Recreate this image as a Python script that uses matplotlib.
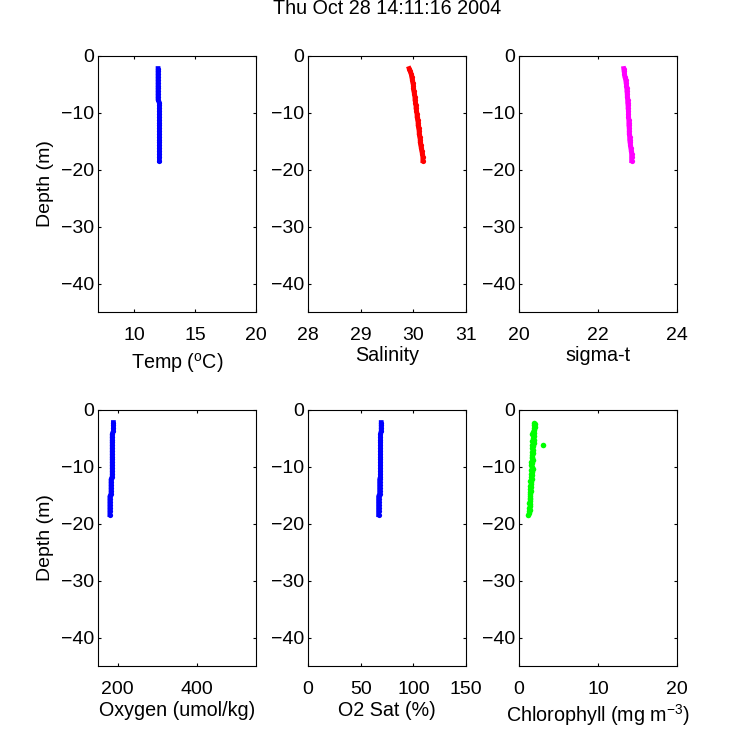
#!/usr/bin/env python3
"""CTD cast profiles, six panels of depth against water properties."""

import matplotlib

matplotlib.use("Agg")
import matplotlib.pyplot as plt

plt.rcParams["font.family"] = ["Liberation Sans", "DejaVu Sans"]
plt.rcParams["mathtext.default"] = "regular"

title = "Thu Oct 28 14:11:16 2004"

depth = [
    -2.2, -2.7, -3.2, -3.7, -4.2, -4.7, -5.2, -5.7, -6.2, -6.7, -7.2,
    -7.7, -8.2, -8.7, -9.2, -9.7, -10.2, -10.7, -11.2, -11.7, -12.2, -12.7,
    -13.2, -13.7, -14.2, -14.7, -15.2, -15.7, -16.2, -16.7, -17.2, -17.7, -18.4,
]
temp = [
    11.94, 11.94, 11.94, 11.94, 11.94, 11.94, 11.94, 11.94, 11.94, 11.94, 11.94,
    11.94, 12.05, 12.05, 12.05, 12.05, 12.05, 12.05, 12.05, 12.05, 12.05, 12.05,
    12.05, 12.05, 12.05, 12.05, 12.05, 12.05, 12.05, 12.05, 12.05, 12.05, 12.05,
]
salinity = [
    29.92, 29.94, 29.96, 29.97, 29.98, 29.99, 30.00, 30.00, 30.01, 30.02, 30.03,
    30.03, 30.04, 30.05, 30.05, 30.06, 30.07, 30.07, 30.08, 30.09, 30.09, 30.10,
    30.11, 30.11, 30.12, 30.13, 30.13, 30.14, 30.15, 30.16, 30.17, 30.18, 30.18,
]
sigma_t = [
    22.65, 22.66, 22.67, 22.68, 22.70, 22.71, 22.72, 22.73, 22.73, 22.74, 22.74,
    22.75, 22.75, 22.76, 22.76, 22.77, 22.77, 22.77, 22.78, 22.78, 22.78, 22.79,
    22.79, 22.79, 22.80, 22.80, 22.81, 22.82, 22.83, 22.84, 22.85, 22.85, 22.85,
]
oxygen = [
    189, 189, 189, 189, 186, 186, 186, 186, 186, 186, 186,
    186, 186, 186, 186, 186, 186, 186, 186, 186, 183, 183,
    183, 183, 183, 183, 180, 180, 180, 180, 180, 180, 180,
]
o2_sat = [
    69.5, 69.5, 69.5, 69.5, 68.8, 68.8, 68.8, 68.8, 68.8, 68.8, 68.8,
    68.8, 68.8, 68.8, 68.8, 68.8, 68.8, 68.8, 68.8, 68.8, 68.0, 68.0,
    68.0, 68.0, 68.0, 68.0, 67.0, 67.0, 67.0, 67.0, 67.0, 67.0, 67.0,
]

# chlorophyll is sampled on its own finer depth list
chl_depth = [
    -2.2, -2.4, -2.7, -3.0, -3.2, -3.5, -3.8, -4.0, -4.3, -4.6, -4.9, -5.2,
    -5.5, -5.8, -6.1, -6.2, -6.4, -6.7, -7.0, -7.3, -7.6, -7.9, -8.2, -8.5,
    -8.8, -9.1, -9.4, -9.7, -10.0, -10.3, -10.6, -10.9, -11.2, -11.5, -11.8,
    -12.1, -12.4, -12.7, -13.0, -13.3, -13.6, -13.9, -14.2, -14.5, -14.8,
    -15.1, -15.4, -15.7, -16.0, -16.3, -16.6, -16.9, -17.2, -17.5, -17.8,
    -18.1, -18.4,
]
chlorophyll = [
    1.95, 2.00, 1.90, 2.00, 1.85, 1.95, 1.80, 1.90, 1.70, 1.85, 1.75, 1.85,
    1.70, 1.85, 1.70, 3.10, 1.80, 1.70, 1.80, 1.65, 1.75, 1.60, 1.70, 1.60,
    1.75, 1.55, 1.65, 1.55, 1.65, 1.75, 1.55, 1.65, 1.50, 1.60, 1.50,
    1.60, 1.45, 1.55, 1.50, 1.40, 1.50, 1.40, 1.55, 1.40, 1.45,
    1.35, 1.45, 1.35, 1.40, 1.30, 1.40, 1.35, 1.30, 1.35, 1.25,
    1.30, 1.15,
]

panels = [
    (temp, depth, "#0000ff", (7, 20), [10, 15, 20], "Temp ($^{o}$C)"),
    (salinity, depth, "#ff0000", (28, 31), [28, 29, 30, 31], "Salinity"),
    (sigma_t, depth, "#ff00ff", (20, 24), [20, 22, 24], "sigma-t"),
    (oxygen, depth, "#0000ff", (150, 550), [200, 400], "Oxygen (umol/kg)"),
    (o2_sat, depth, "#0000ff", (0, 150), [0, 50, 100, 150], "O2 Sat (%)"),
    (chlorophyll, chl_depth, "#00ff00", (0, 20), [0, 10, 20], "Chlorophyll (mg m$^{-3}$)"),
]
y_ticks = [0, -10, -20, -30, -40]
label_pads = [5, 1, 1, 2, 2, 3]

W, H = 750, 750
lefts = [98, 308, 519]
tops = [56, 410]
ax_w, ax_h = 158, 256

fig = plt.figure(figsize=(7.5, 7.5), dpi=100)

for i, (values, z, color, xlim, xticks, xlabel) in enumerate(panels):
    row, col = divmod(i, 3)
    ax = fig.add_axes(
        [lefts[col] / W, 1 - (tops[row] + ax_h) / H, ax_w / W, ax_h / H]
    )
    is_chl = color == "#00ff00"
    ax.plot(values, z, ".", color=color, markersize=8 if is_chl else 7.5, markeredgewidth=0)
    if not is_chl:
        ax.plot(values, z, "-", color=color, linewidth=3.4)
    ax.set_xlim(xlim)
    ax.set_ylim(-45, 0)
    ax.set_xticks(xticks)
    ax.set_yticks(y_ticks)
    ax.tick_params(direction="in", top=True, right=True, labelsize=14, length=2.2, width=0.8)
    ax.tick_params(axis="x", pad=11)
    ax.tick_params(axis="y", pad=3)
    ax.set_xlabel(xlabel, fontsize=14.2, labelpad=label_pads[i])
    if col == 0:
        ax.set_ylabel("Depth (m)", fontsize=14, labelpad=5)
    for spine in ax.spines.values():
        spine.set_linewidth(0.8)

fig.text(387 / W, 1 - 9 / H, title, ha="center", va="center", fontsize=14.2)

fig.savefig("out.png", dpi=100)
plt.close(fig)
